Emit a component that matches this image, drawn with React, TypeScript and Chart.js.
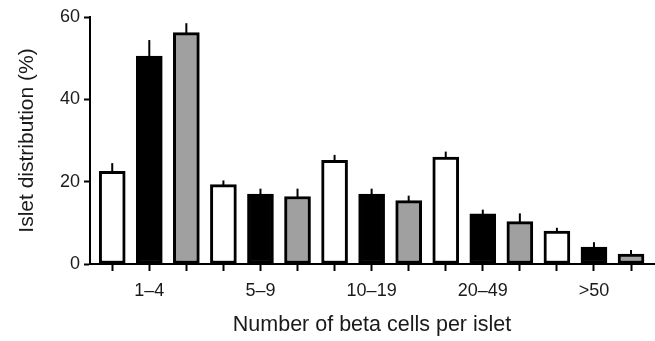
import React, { useEffect, useRef } from "react";
import { Chart, registerables } from "chart.js";

Chart.register(...registerables);

const categories = ["1–4", "5–9", "10–19", "20–49", ">50"];
const seriesNames = ["Group A", "Group B", "Group C"];
const whiteValues = [22.5, 19.3, 25.2, 26.0, 8.0];
const whiteErrors = [2.0, 1.0, 1.3, 1.3, 0.8];
const blackValues = [50.5, 17.0, 17.0, 12.2, 4.1];
const blackErrors = [3.9, 1.3, 1.3, 1.0, 1.2];
const grayValues = [56.2, 16.4, 15.4, 10.3, 2.4];
const grayErrors = [2.3, 1.9, 1.2, 2.0, 1.0];
const yTicks = [0, 20, 40, 60];

const seriesValues = [whiteValues, blackValues, grayValues];
const seriesErrors = [whiteErrors, blackErrors, grayErrors];
const seriesFill = ["#ffffff", "#000000", "#a0a0a0"];

const errorBarPlugin = {
  id: "errorBars",
  afterDatasetsDraw(chart: any) {
    const ctx = chart.ctx;
    const yScale = chart.scales.y;
    ctx.save();
    ctx.strokeStyle = "#000";
    ctx.lineWidth = 2;
    chart.data.datasets.forEach((ds: any, di: number) => {
      const meta = chart.getDatasetMeta(di);
      meta.data.forEach((el: any, i: number) => {
        const v = ds.data[i].y;
        const e = ds.errors[i];
        const yTop = yScale.getPixelForValue(v + e);
        ctx.beginPath();
        ctx.moveTo(el.x, el.y + 1);
        ctx.lineTo(el.x, yTop);
        ctx.stroke();
      });
    });
    ctx.restore();
  },
};

export default function App() {
  const canvasRef = useRef<HTMLCanvasElement | null>(null);

  useEffect(() => {
    document.body.style.margin = "0";
    const n = categories.length;
    const datasets = seriesValues.map((vals, s) => ({
      label: seriesNames[s],
      data: vals.map((v, i) => ({ x: i * 3 + s, y: v })),
      errors: seriesErrors[s],
      backgroundColor: seriesFill[s],
      borderColor: "#000",
      borderWidth: 3,
      borderSkipped: false,
      barThickness: 26,
      grouped: false,
    }));
    const tickLabelMap: Record<number, string> = {};
    categories.forEach((c, i) => (tickLabelMap[i * 3 + 1] = c));
    const fam = "'Liberation Sans', Arial, sans-serif";

    const chart = new Chart(canvasRef.current as HTMLCanvasElement, {
      type: "bar",
      data: { datasets } as any,
      plugins: [errorBarPlugin],
      options: {
        animation: false,
        responsive: false,
        maintainAspectRatio: false,
        layout: { padding: { top: 17, right: 1, left: 0, bottom: 0 } },
        plugins: { legend: { display: false }, tooltip: { enabled: false } },
        scales: {
          x: {
            type: "linear",
            offset: false,
            min: -0.6,
            max: n * 3 - 0.38,
            afterBuildTicks: (scale: any) => {
              scale.ticks = Array.from({ length: n * 3 }, (_, i) => ({ value: i }));
            },
            afterFit: (scale: any) => {
              scale.height = 77;
            },
            grid: {
              offset: false,
              drawOnChartArea: false,
              drawTicks: true,
              tickLength: 7,
              tickWidth: 2,
              tickColor: "#000",
            },
            border: { display: true, color: "#000", width: 2 },
            ticks: {
              autoSkip: false,
              maxRotation: 0,
              padding: 9,
              color: "#1a1a1a",
              font: { size: 18, family: fam },
              callback: (value: any) => tickLabelMap[value] ?? "",
            },
            title: {
              display: true,
              text: "Number of beta cells per islet",
              color: "#1a1a1a",
              font: { size: 21.5, family: fam },
              padding: { top: 0, bottom: 3 },
            },
          },
          y: {
            type: "linear",
            min: 0,
            max: 60,
            afterBuildTicks: (scale: any) => {
              scale.ticks = yTicks.map((v) => ({ value: v }));
            },
            afterFit: (scale: any) => {
              scale.width = 90;
            },
            grid: {
              drawOnChartArea: false,
              drawTicks: true,
              tickLength: 6,
              tickWidth: 2,
              tickColor: "#000",
            },
            border: { display: true, color: "#000", width: 2 },
            ticks: {
              padding: 4,
              color: "#1a1a1a",
              font: { size: 18, family: fam },
            },
            title: {
              display: true,
              text: "Islet distribution (%)",
              color: "#1a1a1a",
              font: { size: 21, family: fam },
              padding: { top: 15, bottom: 0 },
            },
          },
        },
      },
    });
    return () => chart.destroy();
  }, []);

  return (
    <div style={{ width: 655, height: 341, background: "#fff" }}>
      <canvas ref={canvasRef} width={655} height={341} style={{ display: "block" }} />
    </div>
  );
}
